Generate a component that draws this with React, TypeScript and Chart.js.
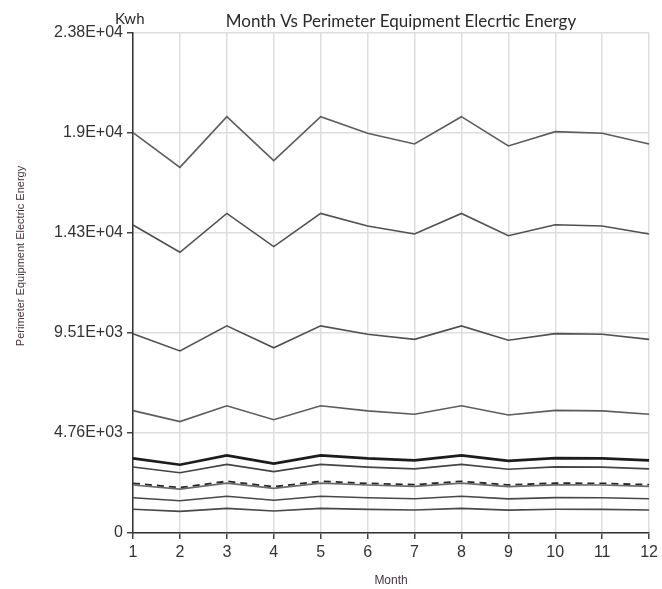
import React, { useEffect, useRef } from 'react';
import { Chart, registerables } from 'chart.js';

Chart.register(...registerables);

const MONTHS = ['1', '2', '3', '4', '5', '6', '7', '8', '9', '10', '11', '12'];
const SERIES_A = [19040, 17390, 19800, 17710, 19800, 19010, 18500, 19800, 18410, 19090, 19010, 18500];
const SERIES_B = [14650, 13350, 15200, 13620, 15200, 14600, 14220, 15200, 14140, 14660, 14600, 14220];
const SERIES_C = [9480, 8660, 9850, 8810, 9850, 9450, 9210, 9850, 9170, 9480, 9450, 9210];
const SERIES_D = [5820, 5300, 6050, 5390, 6050, 5810, 5650, 6050, 5610, 5830, 5810, 5650];
const SERIES_E = [3553, 3246, 3695, 3304, 3695, 3548, 3453, 3695, 3435, 3562, 3548, 3453];
const SERIES_F = [3139, 2868, 3265, 2919, 3265, 3134, 3051, 3265, 3035, 3147, 3134, 3051];
const SERIES_G = [2364, 2160, 2459, 2199, 2459, 2360, 2297, 2459, 2285, 2370, 2360, 2297];
const SERIES_H = [2283, 2086, 2374, 2123, 2374, 2280, 2219, 2374, 2207, 2289, 2280, 2219];
const SERIES_I = [1679, 1534, 1746, 1561, 1746, 1676, 1632, 1746, 1623, 1683, 1676, 1632];
const SERIES_J = [1127, 1030, 1172, 1048, 1172, 1125, 1095, 1172, 1090, 1130, 1125, 1095];
const Y_TICKS = [0, 4756, 9512, 14268, 19024, 23780];

const TITLE = 'Month Vs Perimeter Equipment Elecrtic Energy';
const UNIT = 'Kwh';
const X_TITLE = 'Month';
const Y_TITLE = 'Perimeter Equipment Electric Energy';

function fmtSci(v: number): string {
  if (v === 0) return '0';
  let e = Math.floor(Math.log10(Math.abs(v)));
  let m = Math.round((v / Math.pow(10, e)) * 100) / 100;
  if (m >= 10) {
    m = m / 10;
    e += 1;
  }
  const ms = String(parseFloat(m.toFixed(2)));
  return ms + 'E' + (e >= 0 ? '+' : '-') + String(Math.abs(e)).padStart(2, '0');
}

const textPlugin = {
  id: 'extraText',
  afterDraw(chart: any) {
    const ctx = chart.ctx;
    const area = chart.chartArea;
    ctx.save();
    ctx.fillStyle = '#2a2a2a';
    ctx.font = '17px Lato, "Open Sans", sans-serif';
    ctx.textAlign = 'center';
    ctx.textBaseline = 'alphabetic';
    ctx.fillText(TITLE, 401, 27);
    ctx.font = '15px Lato, "Open Sans", sans-serif';
    ctx.textAlign = 'left';
    ctx.fillText(UNIT, 115, 24);
    ctx.fillStyle = '#4a3340';
    ctx.font = '12px "Liberation Sans", Arial, sans-serif';
    ctx.textAlign = 'center';
    ctx.textBaseline = 'middle';
    ctx.fillText(X_TITLE, (area.left + area.right) / 2, 581);
    ctx.translate(21, 256);
    ctx.rotate(-Math.PI / 2);
    ctx.font = '11px "Liberation Sans", Arial, sans-serif';
    ctx.fillText(Y_TITLE, 0, 0);
    ctx.restore();
  },
};

function line(data: number[], color: string, width: number, dash: number[] = []) {
  return {
    data,
    borderColor: color,
    backgroundColor: color,
    borderWidth: width,
    borderDash: dash,
    pointRadius: 0,
    tension: 0,
    fill: false,
  };
}

export default function App() {
  const ref = useRef<HTMLCanvasElement | null>(null);

  useEffect(() => {
    if (!ref.current) return;
    const chart = new Chart(ref.current, {
      type: 'line',
      data: {
        labels: MONTHS,
        datasets: [
          line(SERIES_A, '#5c5c5c', 1.6),
          line(SERIES_B, '#505050', 1.6),
          line(SERIES_C, '#505050', 1.6),
          line(SERIES_D, '#5c5c5c', 1.6),
          line(SERIES_E, '#1c1c1c', 2.7),
          line(SERIES_F, '#444444', 1.6),
          line(SERIES_H, '#6a6a6a', 1.6),
          line(SERIES_G, '#262626', 1.8, [7, 5]),
          line(SERIES_I, '#484848', 1.6),
          line(SERIES_J, '#484848', 1.6),
        ] as any,
      },
      options: {
        animation: false,
        responsive: true,
        maintainAspectRatio: false,
        layout: { padding: { top: 33, right: 10, left: 0, bottom: 0 } },
        plugins: {
          legend: { display: false },
          tooltip: { enabled: false },
          title: { display: false },
        },
        scales: {
          x: {
            type: 'category',
            offset: false,
            afterFit: (s: any) => {
              s.height = 56;
            },
            grid: {
              color: '#dedede',
              lineWidth: 1.5,
              drawTicks: true,
              tickLength: 6,
              tickColor: '#444',
              tickWidth: 1.5,
            },
            border: { color: '#333', width: 1.5 },
            ticks: {
              color: '#333',
              padding: 4,
              maxRotation: 0,
              autoSkip: false,
              font: { family: '"Liberation Sans", Arial, sans-serif', size: 16 },
            },
          },
          y: {
            type: 'linear',
            min: 0,
            max: 23780,
            afterFit: (s: any) => {
              s.width = 133;
            },
            afterBuildTicks: (s: any) => {
              s.ticks = Y_TICKS.map((v) => ({ value: v }));
            },
            grid: {
              color: '#dedede',
              lineWidth: 1.5,
              drawTicks: true,
              tickLength: 6,
              tickColor: '#444',
              tickWidth: 1.5,
            },
            border: { color: '#333', width: 1.5 },
            ticks: {
              color: '#333',
              padding: 4,
              font: { family: '"Liberation Sans", Arial, sans-serif', size: 16 },
              callback: (v: any) => fmtSci(Number(v)),
            },
          },
        },
      },
      plugins: [textPlugin],
    });
    return () => chart.destroy();
  }, []);

  return (
    <div style={{ position: 'absolute', left: 0, top: 0, width: 662, height: 589, background: '#fff' }}>
      <canvas ref={ref} />
    </div>
  );
}
